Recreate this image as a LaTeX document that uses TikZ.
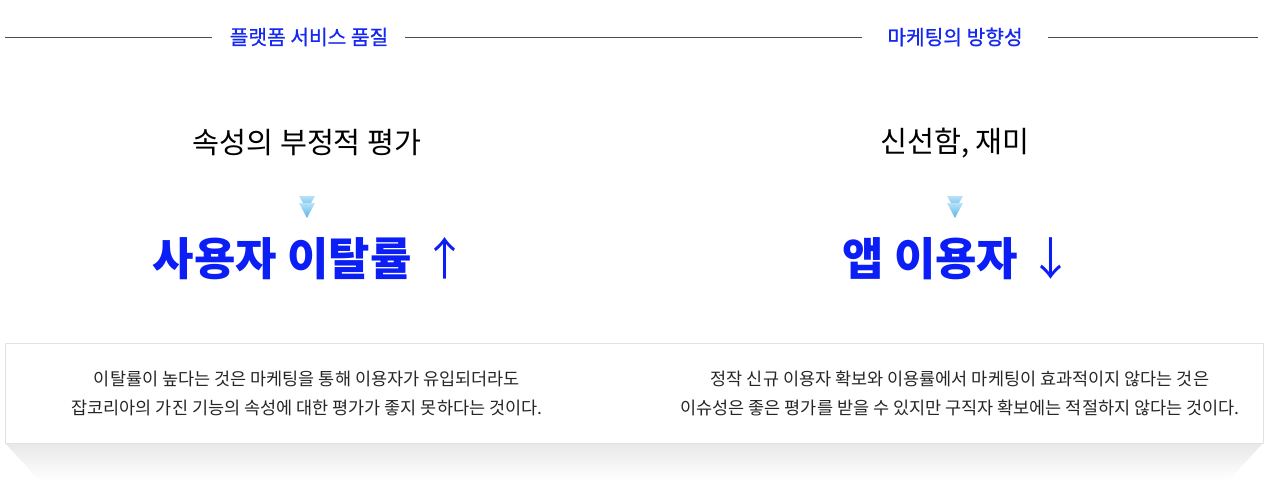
\documentclass[tikz,border=0pt]{standalone}
\usepackage{fontspec}
\setmainfont{Noto Sans CJK KR}
\newfontfamily\kr{Noto Sans CJK KR}
\newfontfamily\krm[FakeBold=0.8]{Noto Sans CJK KR}
\definecolor{hblue}{HTML}{1428F0}
\definecolor{ablue}{HTML}{0A1EF5}
\definecolor{boxline}{HTML}{E2E2E2}
\definecolor{arrtop}{HTML}{B8E2F8}
\definecolor{arrbot}{HTML}{5AB4E6}
\tikzset{
  head/.style={font=\krm\fontsize{20.3}{20}\selectfont, text=hblue, inner sep=0pt},
  cause/.style={font=\kr\fontsize{29.3}{29}\selectfont, text=black, inner sep=0pt},
  effect/.style={font=\kr\bfseries\fontsize{45}{45}\selectfont, text=ablue, inner sep=0pt},
  body/.style={font=\kr\fontsize{17.5}{29}\selectfont, text=black!85, align=center, inner sep=0pt},
  rule/.style={draw=black!70, line width=0.7pt},
  chev/.style={top color=arrtop, bottom color=arrbot, draw=none}
}
\begin{document}
\begin{tikzpicture}[x=1pt,y=-1pt]
\useasboundingbox (0,0) rectangle (1280,488);
\fill[white] (0,0) rectangle (1280,488);
% headers
\node[head] (h1) at (309,37) {플랫폼 서비스 품질};
\node[head] (h2) at (955,37) {마케팅의 방향성};
\coordinate (l0) at (5,37);
\coordinate (l3) at (1258,37);
\draw[rule] (l0) -- ([xshift=-18pt]h1.west);
\draw[rule] ([xshift=17pt]h1.east) -- ([xshift=-25pt]h2.west);
\draw[rule] ([xshift=25pt]h2.east) -- (l3);
% causes
\node[cause] (c1) at (307,143) {속성의 부정적 평가};
\node[cause] (c2) at (955,143) {신선함, 재미};
% chevrons
\foreach \cx in {307,955}{
  \shade[chev] (\cx-8,196) -- (\cx+8,196) -- (\cx,210) -- cycle;
  \shade[chev] (\cx-8,203) -- (\cx+8,203) -- (\cx,218) -- cycle;
}
% effects
\node[effect] (e1) at (310,259) {사용자 이탈률 {\mdseries ↑}};
\node[effect] (e2) at (958,259) {앱 이용자 {\mdseries ↓}};
% shadow
\shade[top color=black!9, bottom color=white] (5,443) -- (1263,443) -- (1228,481) -- (40,481) -- cycle;
% box
\draw[boxline, fill=white, line width=0.8pt] (5,343) rectangle (1263,443);
\node[body] (t1) at (307,393.5) {이탈률이 높다는 것은 마케팅을 통해 이용자가 유입되더라도\\잡코리아의 가진 기능의 속성에 대한 평가가 좋지 못하다는 것이다.};
\node[body] (t2) at (960,393.5) {정작 신규 이용자 확보와 이용률에서 마케팅이 효과적이지 않다는 것은\\이슈성은 좋은 평가를 받을 수 있지만 구직자 확보에는 적절하지 않다는 것이다.};
\end{tikzpicture}
\end{document}
